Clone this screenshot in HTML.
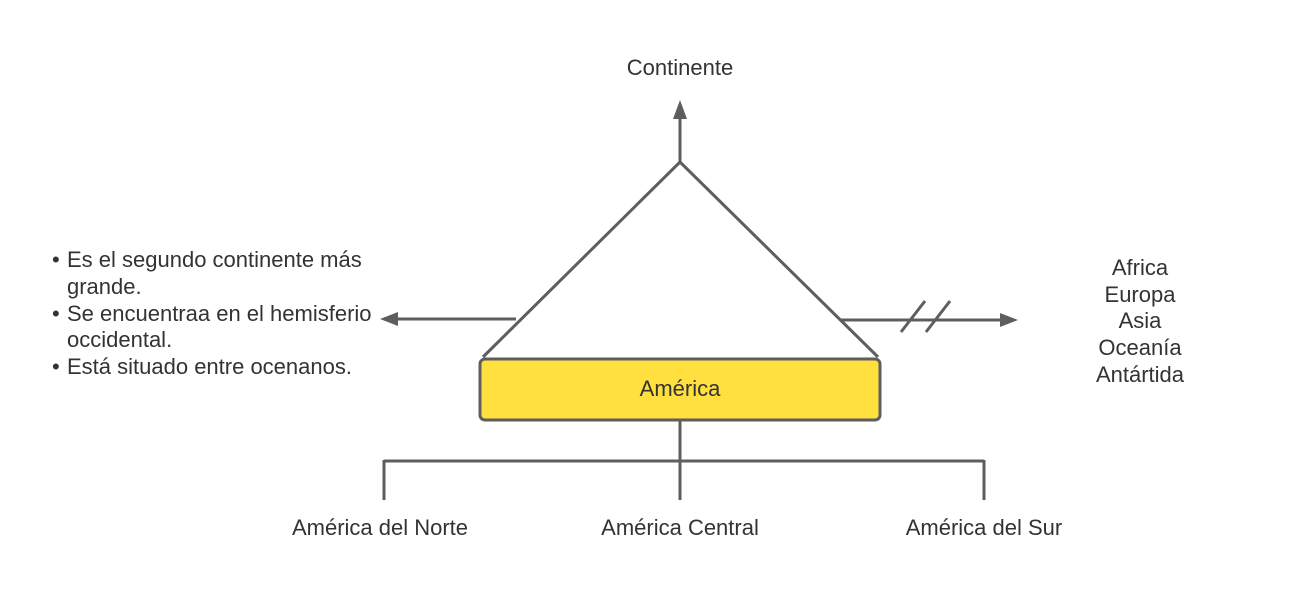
<!DOCTYPE html>
<html><head><meta charset="utf-8"><style>
html,body{margin:0;padding:0;background:#fff;width:1300px;height:600px;overflow:hidden}
svg{display:block}
text{font-family:"Liberation Sans",sans-serif;font-size:22px;fill:#333}
</style></head><body>
<svg width="1300" height="600" viewBox="0 0 1300 600">
<g stroke="#5e5e5e" stroke-width="3" fill="none">
<polyline points="483,357 680,162 878,357"/>
<line x1="680" y1="162" x2="680" y2="118"/>
<line x1="516" y1="319" x2="396" y2="319"/>
<line x1="840" y1="320" x2="1002" y2="320"/>
<line x1="901" y1="332" x2="925" y2="301"/>
<line x1="926" y1="332" x2="950" y2="301"/>
<line x1="680" y1="420" x2="680" y2="500"/>
<line x1="384" y1="461" x2="984" y2="461"/>
<line x1="384" y1="460" x2="384" y2="500"/>
<line x1="984" y1="460" x2="984" y2="500"/>
</g>
<g fill="#5e5e5e">
<polygon points="680,100 673,119 687,119"/>
<polygon points="380,319 398,312 398,326"/>
<polygon points="1018,320 1000,313 1000,327"/>
</g>
<rect x="480" y="359" width="400" height="61" rx="5" fill="#ffe03f" stroke="#5e5e5e" stroke-width="3"/>
<text x="680" y="396" text-anchor="middle">América</text>
<text x="680" y="75" text-anchor="middle">Continente</text>
<text x="52" y="267">•</text><text x="67" y="267">Es el segundo continente más</text>
<text x="67" y="294">grande.</text>
<text x="52" y="321">•</text><text x="67" y="321">Se encuentraa en el hemisferio</text>
<text x="67" y="347">occidental.</text>
<text x="52" y="374">•</text><text x="67" y="374">Está situado entre ocenanos.</text>
<g text-anchor="middle">
<text x="1140" y="275">Africa</text>
<text x="1140" y="302">Europa</text>
<text x="1140" y="328">Asia</text>
<text x="1140" y="355">Oceanía</text>
<text x="1140" y="382">Antártida</text>
<text x="380" y="535">América del Norte</text>
<text x="680" y="535">América Central</text>
<text x="984" y="535">América del Sur</text>
</g>
</svg>
</body></html>
